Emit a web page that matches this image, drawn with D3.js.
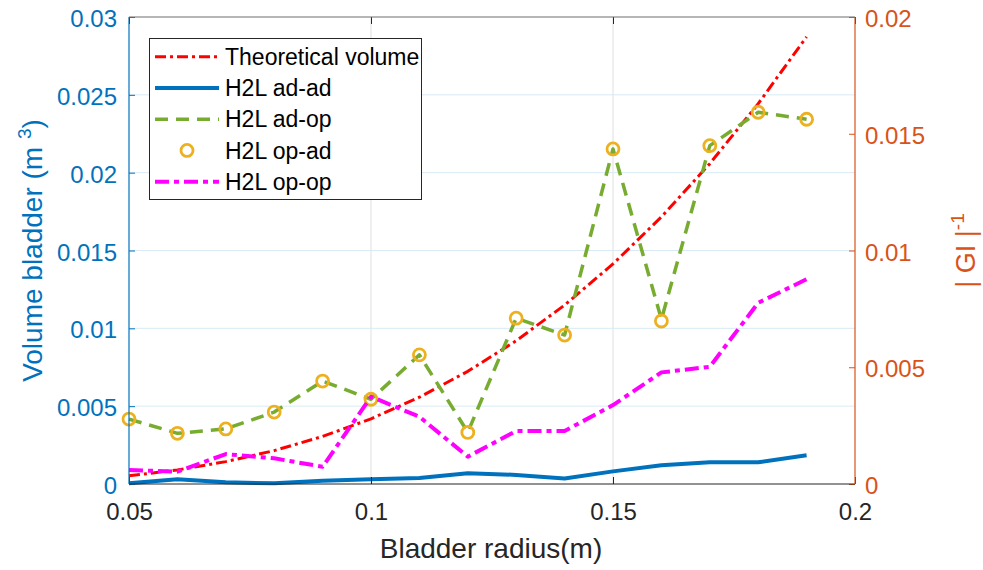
<!DOCTYPE html>
<html>
<head>
<meta charset="utf-8">
<script src="https://cdn.jsdelivr.net/npm/d3@7"></script>
<style>
  body { margin: 0; background: #fff; }
  text { font-family: "Liberation Sans", Arial, Helvetica, sans-serif; }
</style>
</head>
<body>
<svg id="chart" width="983" height="570"></svg>
<script>
// data
const radius = [0.05, 0.06, 0.07, 0.08, 0.09, 0.10, 0.11, 0.12, 0.13, 0.14, 0.15, 0.16, 0.17, 0.18, 0.19];
const theoreticalVolume = [0.000524, 0.000905, 0.001437, 0.002145, 0.003054, 0.004189, 0.005575, 0.007238,
  0.009203, 0.011494, 0.014137, 0.017157, 0.020580, 0.024429, 0.028731];
const h2lAdAd = [0.00003, 0.00020, 0.00007, 0.00003, 0.00014, 0.00020, 0.00026, 0.00046,
  0.00039, 0.00024, 0.00054, 0.00080, 0.00093, 0.00093, 0.00123];
const h2lAdOp = [0.00278, 0.00217, 0.00236, 0.00308, 0.00441, 0.00363, 0.00553, 0.00222,
  0.00710, 0.00638, 0.01435, 0.00705, 0.01449, 0.01592, 0.01562];
const h2lOpAd = [0.00278, 0.00217, 0.00236, 0.00308, 0.00441, 0.00363, 0.00553, 0.00221,
  0.00710, 0.00638, 0.01435, 0.00698, 0.01449, 0.01592, 0.01562];
const h2lOpOp = [0.00060, 0.00053, 0.00128, 0.00110, 0.00074, 0.00374, 0.00288, 0.00117,
  0.00227, 0.00227, 0.00338, 0.00478, 0.00502, 0.00776, 0.00877];

const xTicks = [0.05, 0.1, 0.15, 0.2];
const xTickLabels = ["0.05", "0.1", "0.15", "0.2"];
const leftTicks = [0, 0.005, 0.01, 0.015, 0.02, 0.025, 0.03];
const leftTickLabels = ["0", "0.005", "0.01", "0.015", "0.02", "0.025", "0.03"];
const rightTicks = [0, 0.005, 0.01, 0.015, 0.02];
const rightTickLabels = ["0", "0.005", "0.01", "0.015", "0.02"];

const blue = "#0072BD", orange = "#D95319", axisGray = "#262626";

const plotLeft = 129, plotRight = 855, plotTop = 17, plotBottom = 484;

const svg = d3.select("#chart");

const x = d3.scaleLinear().domain([0.05, 0.2]).range([plotLeft, plotRight]);
const yLeft = d3.scaleLinear().domain([0, 0.03]).range([plotBottom, plotTop]);
const yRight = d3.scaleLinear().domain([0, 0.02]).range([plotBottom, plotTop]);

// grid
const grid = svg.append("g");
grid.selectAll("line.vgrid")
  .data(xTicks.filter(d => d > 0.05 && d < 0.2))
  .join("line")
  .attr("x1", d => x(d)).attr("x2", d => x(d))
  .attr("y1", plotTop).attr("y2", plotBottom)
  .attr("stroke", "#dfdfdf").attr("stroke-width", 1);
grid.selectAll("line.hgrid")
  .data(leftTicks.filter(d => d > 0 && d < 0.03))
  .join("line")
  .attr("x1", plotLeft).attr("x2", plotRight)
  .attr("y1", d => yLeft(d)).attr("y2", d => yLeft(d))
  .attr("stroke", "#d9eaf5").attr("stroke-width", 1);

// series
const lineLeft = d3.line().x((d, i) => x(radius[i])).y(d => yLeft(d));
const lineRight = d3.line().x((d, i) => x(radius[i])).y(d => yRight(d));

const series = [
  { name: "Theoretical volume", values: theoreticalVolume, line: lineLeft, color: "#FF0000", width: 3, dash: "11,4,3,4" },
  { name: "H2L ad-ad", values: h2lAdAd, line: lineRight, color: blue, width: 4, dash: null },
  { name: "H2L ad-op", values: h2lAdOp, line: lineRight, color: "#77AC30", width: 3.5, dash: "13,8" },
  { name: "H2L op-ad", values: h2lOpAd, marker: true, color: "#EDB120" },
  { name: "H2L op-op", values: h2lOpOp, line: lineRight, color: "#FF00FF", width: 4, dash: "14,5,5,5" }
];

const plot = svg.append("g");
series.forEach(s => {
  if (s.marker) {
    plot.append("g").selectAll("circle")
      .data(s.values)
      .join("circle")
      .attr("cx", (d, i) => x(radius[i]))
      .attr("cy", d => yRight(d))
      .attr("r", 6)
      .attr("fill", "none")
      .attr("stroke", s.color)
      .attr("stroke-width", 2.8);
  } else {
    plot.append("path")
      .datum(s.values)
      .attr("d", s.line)
      .attr("fill", "none")
      .attr("stroke", s.color)
      .attr("stroke-width", s.width)
      .attr("stroke-dasharray", s.dash)
      .attr("stroke-linejoin", "round");
  }
});

// axes
function styleAxis(g, color) {
  g.select(".domain").remove();
  g.selectAll(".tick line").attr("stroke", color);
  g.selectAll(".tick text").attr("fill", color).attr("font-size", 24);
}

const xAxis = svg.append("g")
  .attr("transform", `translate(0,${plotBottom})`)
  .call(d3.axisBottom(x).tickValues(xTicks).tickFormat((d, i) => xTickLabels[i]).tickSize(-7).tickPadding(20));
styleAxis(xAxis, axisGray);
xAxis.selectAll(".tick text").attr("dy", "0.71em").attr("y", 19);

const xAxisTop = svg.append("g")
  .attr("transform", `translate(0,${plotTop})`)
  .call(d3.axisTop(x).tickValues(xTicks).tickFormat("").tickSize(-7));
styleAxis(xAxisTop, axisGray);

const leftAxis = svg.append("g")
  .attr("transform", `translate(${plotLeft},0)`)
  .call(d3.axisLeft(yLeft).tickValues(leftTicks).tickFormat((d, i) => leftTickLabels[i]).tickSize(-6).tickPadding(12));
styleAxis(leftAxis, blue);
leftAxis.selectAll(".tick text").attr("dy", "0.4em");

const rightAxis = svg.append("g")
  .attr("transform", `translate(${plotRight},0)`)
  .call(d3.axisRight(yRight).tickValues(rightTicks).tickFormat((d, i) => rightTickLabels[i]).tickSize(-6).tickPadding(10));
styleAxis(rightAxis, orange);
rightAxis.selectAll(".tick text").attr("dy", "0.4em");

// box
svg.append("line").attr("x1", plotLeft).attr("x2", plotRight).attr("y1", plotTop).attr("y2", plotTop)
  .attr("stroke", "#6e6e6e").attr("stroke-width", 1.2);
svg.append("line").attr("x1", plotLeft).attr("x2", plotRight).attr("y1", plotBottom).attr("y2", plotBottom)
  .attr("stroke", axisGray).attr("stroke-width", 1.2);
svg.append("line").attr("x1", plotLeft).attr("x2", plotLeft).attr("y1", plotTop).attr("y2", plotBottom)
  .attr("stroke", blue).attr("stroke-width", 1.2);
svg.append("line").attr("x1", plotRight).attr("x2", plotRight).attr("y1", plotTop).attr("y2", plotBottom)
  .attr("stroke", orange).attr("stroke-width", 1.2);

// axis labels
svg.append("text")
  .attr("x", (plotLeft + plotRight) / 2 - 1).attr("y", 558)
  .attr("text-anchor", "middle").attr("font-size", 28).attr("fill", axisGray)
  .text("Bladder radius(m)");

const yLabel = svg.append("text")
  .attr("transform", `translate(42,${(plotTop + plotBottom) / 2}) rotate(-90)`)
  .attr("text-anchor", "middle").attr("font-size", 28).attr("fill", blue);
yLabel.append("tspan").text("Volume bladder (m ");
yLabel.append("tspan").attr("font-size", 19).attr("dy", -11).text("3");
yLabel.append("tspan").attr("dy", 11).text(")");

const yLabelRight = svg.append("text")
  .attr("transform", `translate(975,${(plotTop + plotBottom) / 2}) rotate(-90)`)
  .attr("text-anchor", "middle").attr("font-size", 27).attr("fill", orange);
yLabelRight.append("tspan").text("| GI |");
yLabelRight.append("tspan").attr("font-size", 19).attr("dy", -11).text("-1");

// legend
const legend = svg.append("g");
legend.append("rect")
  .attr("x", 149.5).attr("y", 38.5).attr("width", 272).attr("height", 161)
  .attr("fill", "#fff").attr("stroke", axisGray).attr("stroke-width", 1);
const rowY = d3.scalePoint().domain(series.map(s => s.name)).range([56.7, 181.7]);
series.forEach(s => {
  const cy = rowY(s.name);
  if (s.marker) {
    legend.append("circle").attr("cx", 187).attr("cy", cy).attr("r", 6)
      .attr("fill", "none").attr("stroke", s.color).attr("stroke-width", 2.8);
  } else {
    legend.append("line").attr("x1", 155).attr("x2", 219).attr("y1", cy).attr("y2", cy)
      .attr("stroke", s.color).attr("stroke-width", s.width).attr("stroke-dasharray", s.dash);
  }
  legend.append("text").attr("x", 225).attr("y", cy).attr("dy", "0.36em")
    .attr("font-size", 23).attr("fill", "#000").text(s.name);
});
</script>
</body>
</html>
